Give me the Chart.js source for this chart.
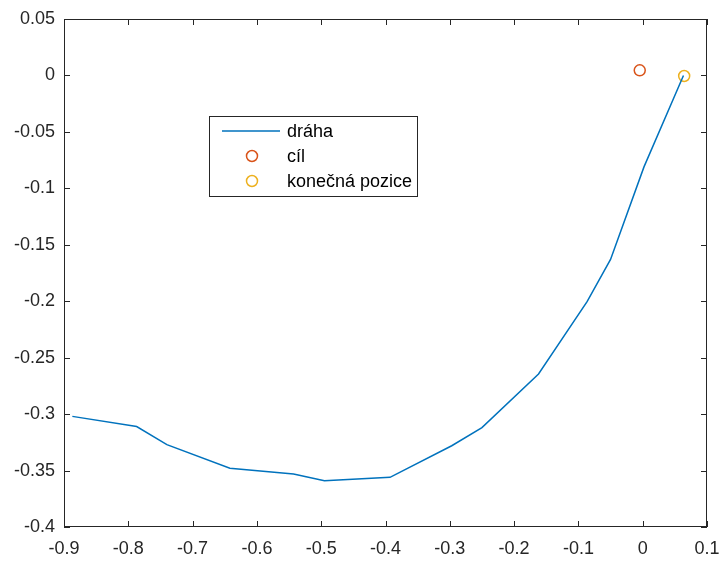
<!DOCTYPE html>
<html>
<head>
<meta charset="utf-8">
<script src="https://cdn.jsdelivr.net/npm/chart.js@4"></script>
<style>
  html, body { margin: 0; padding: 0; background: #fff; }
  #wrap { width: 720px; height: 562px; }
</style>
</head>
<body>
<div id="wrap"><canvas id="chart" width="720" height="562"></canvas></div>
<script>
const pathX = [-0.887, -0.787, -0.740, -0.642, -0.543, -0.495, -0.393, -0.297, -0.250, -0.162, -0.0865, -0.050, 0.002, 0.0634];
const pathY = [-0.302, -0.311, -0.327, -0.348, -0.353, -0.359, -0.356, -0.328, -0.312, -0.2645, -0.2004, -0.163, -0.081, 0.0];
const targetX = [-0.0046];
const targetY = [0.0045];
const finalX = [0.0645];
const finalY = [-0.0005];
const labels = ['dráha', 'cíl', 'konečná pozice'];
const xTickLabels = ['-0.9', '-0.8', '-0.7', '-0.6', '-0.5', '-0.4', '-0.3', '-0.2', '-0.1', '0', '0.1'];
const yTickLabels = ['0.05', '0', '-0.05', '-0.1', '-0.15', '-0.2', '-0.25', '-0.3', '-0.35', '-0.4'];

const axisColor = '#262626';
const font = { family: 'Liberation Sans, Arial, sans-serif', size: 18 };

function toPoints(xs, ys) {
    return xs.map((x, i) => ({ x: x, y: ys[i] }));
}

// MATLAB style box with inward ticks, plus the legend inside the axes
const boxPlugin = {
    id: 'box',
    afterDatasetsDraw(chart) {
        const ctx = chart.ctx;
        const a = chart.chartArea;
        const xs = chart.scales.x, ys = chart.scales.y;
        ctx.save();
        ctx.strokeStyle = axisColor;
        ctx.lineWidth = 1;
        ctx.strokeRect(a.left + 0.5, a.top + 0.5, a.right - a.left - 1, a.bottom - a.top - 1);
        ctx.beginPath();
        xs.ticks.forEach(t => {
            const px = Math.round(xs.getPixelForValue(t.value)) + 0.5;
            ctx.moveTo(px, a.bottom); ctx.lineTo(px, a.bottom - 6);
            ctx.moveTo(px, a.top); ctx.lineTo(px, a.top + 6);
        });
        ys.ticks.forEach(t => {
            const py = Math.round(ys.getPixelForValue(t.value)) + 0.5;
            ctx.moveTo(a.left, py); ctx.lineTo(a.left + 6, py);
            ctx.moveTo(a.right, py); ctx.lineTo(a.right - 6, py);
        });
        ctx.stroke();
        ctx.restore();
    },
    afterDraw(chart) {
        const ctx = chart.ctx;
        const ds = chart.data.datasets;
        const left = 209, top = 116, w = 208, h = 80;
        ctx.save();
        ctx.fillStyle = '#fff';
        ctx.fillRect(left, top, w, h);
        ctx.strokeStyle = axisColor;
        ctx.lineWidth = 1;
        ctx.strokeRect(left + 0.5, top + 0.5, w, h);
        ctx.font = '18px ' + font.family;
        ctx.textBaseline = 'middle';
        const rows = [131, 156, 181];
        ds.forEach((d, i) => {
            const y = rows[i];
            ctx.strokeStyle = d.borderColor;
            ctx.lineWidth = 1.5;
            ctx.beginPath();
            if (i === 0) {
                ctx.moveTo(222, y); ctx.lineTo(280, y);
            } else {
                ctx.arc(252, y, 5.5, 0, Math.PI * 2);
            }
            ctx.stroke();
            ctx.fillStyle = '#000';
            ctx.fillText(d.label, 287, y + 1);
        });
        ctx.restore();
    }
};

new Chart(document.getElementById('chart').getContext('2d'), {
    type: 'scatter',
    data: {
        datasets: [
            {
                label: labels[0],
                data: toPoints(pathX, pathY),
                showLine: true,
                borderColor: '#0072BD',
                borderWidth: 1.5,
                pointRadius: 0,
                fill: false
            },
            {
                label: labels[1],
                data: toPoints(targetX, targetY),
                borderColor: '#D95319',
                backgroundColor: 'rgba(0,0,0,0)',
                borderWidth: 1.5,
                pointRadius: 5.5
            },
            {
                label: labels[2],
                data: toPoints(finalX, finalY),
                borderColor: '#EDB120',
                backgroundColor: 'rgba(0,0,0,0)',
                borderWidth: 1.5,
                pointRadius: 5.5
            }
        ]
    },
    options: {
        responsive: false,
        animation: false,
        layout: { padding: { top: 19, right: 13, left: 0, bottom: 0 } },
        plugins: {
            legend: { display: false },
            tooltip: { enabled: false }
        },
        scales: {
            x: {
                type: 'linear',
                min: -0.9,
                max: 0.1,
                afterBuildTicks(scale) {
                    scale.ticks = xTickLabels.map(s => ({ value: parseFloat(s) }));
                },
                afterFit(scale) {
                    scale.height = 35;
                    scale.paddingLeft = 0;
                    scale.paddingRight = 0;
                },
                ticks: {
                    color: '#262626',
                    font: font,
                    padding: 11,
                    maxRotation: 0,
                    autoSkip: false,
                    callback: (v, i) => xTickLabels[i]
                },
                grid: { display: false, drawTicks: false },
                border: { display: false }
            },
            y: {
                type: 'linear',
                min: -0.4,
                max: 0.05,
                afterBuildTicks(scale) {
                    scale.ticks = yTickLabels.map(s => ({ value: parseFloat(s) }));
                },
                afterFit(scale) {
                    scale.width = 64;
                    scale.paddingTop = 0;
                    scale.paddingBottom = 0;
                },
                ticks: {
                    color: '#262626',
                    font: font,
                    padding: 9,
                    autoSkip: false,
                    callback: (v, i) => yTickLabels[i]
                },
                grid: { display: false, drawTicks: false },
                border: { display: false }
            }
        }
    },
    plugins: [boxPlugin]
});
</script>
</body>
</html>
